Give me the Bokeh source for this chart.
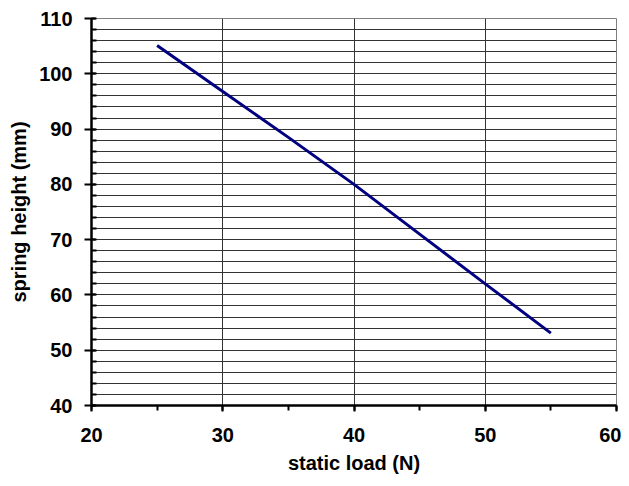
from bokeh.plotting import figure
from bokeh.models import Range1d, SingleIntervalTicker, FixedTicker
from bokeh.embed import file_html
from bokeh.resources import INLINE

# data
static_load = [25, 30, 35, 40, 45, 50, 55]
spring_height = [105.1, 96.8, 88.5, 80.0, 71.0, 62.0, 53.1]

x_ticks = [20, 30, 40, 50, 60]
y_ticks = [40, 50, 60, 70, 80, 90, 100, 110]
y_grid = list(range(40, 112, 2))
x_grid = [30, 40, 50]
x_title = "static load (N)"
y_title = "spring height (mm)"

FONT = "Liberation Sans"

p = figure(width=621, height=478, output_backend="svg", toolbar_location=None,
           x_range=Range1d(20, 60), y_range=Range1d(40, 110),
           min_border_left=91, min_border_right=5, min_border_top=18, min_border_bottom=73)
p.background_fill_color = "white"
p.border_fill_color = "white"
p.outline_line_color = "#808080"
p.outline_line_width = 1

# grids
p.xgrid.ticker = FixedTicker(ticks=x_grid)
p.xgrid.grid_line_color = "#333333"
p.xgrid.grid_line_width = 1
p.ygrid.ticker = FixedTicker(ticks=y_grid)
p.ygrid.grid_line_color = "#333333"
p.ygrid.grid_line_width = 1

# axes
p.xaxis.ticker = SingleIntervalTicker(interval=10, num_minor_ticks=2)
p.yaxis.ticker = SingleIntervalTicker(interval=10, num_minor_ticks=5)

for ax in (p.xaxis[0], p.yaxis[0]):
    ax.axis_line_color = "black"
    ax.axis_line_width = 2.5
    ax.major_tick_line_color = "black"
    ax.major_tick_line_width = 2
    ax.minor_tick_line_color = "black"
    ax.minor_tick_line_width = 2
    ax.major_label_text_font = FONT
    ax.major_label_text_font_style = "bold"
    ax.major_label_text_font_size = "20px"
    ax.major_label_text_color = "black"
    ax.axis_label_text_font = FONT
    ax.axis_label_text_font_style = "bold"
    ax.axis_label_text_font_size = "20px"
    ax.axis_label_text_color = "black"

p.xaxis.axis_label = x_title
p.yaxis.axis_label = y_title

p.xaxis.major_tick_out = 6
p.xaxis.major_tick_in = 0
p.xaxis.minor_tick_out = 5
p.xaxis.minor_tick_in = 0
p.xaxis.major_label_standoff = 16
p.xaxis.axis_label_standoff = 7

p.yaxis.major_tick_out = 7
p.yaxis.major_tick_in = 4
p.yaxis.minor_tick_out = 0
p.yaxis.minor_tick_in = 5
p.yaxis.major_label_standoff = 12
p.yaxis.axis_label_standoff = 6

p.line(static_load, spring_height, line_color="#000080", line_width=3)

open("out.html", "w").write(file_html(p, INLINE))
